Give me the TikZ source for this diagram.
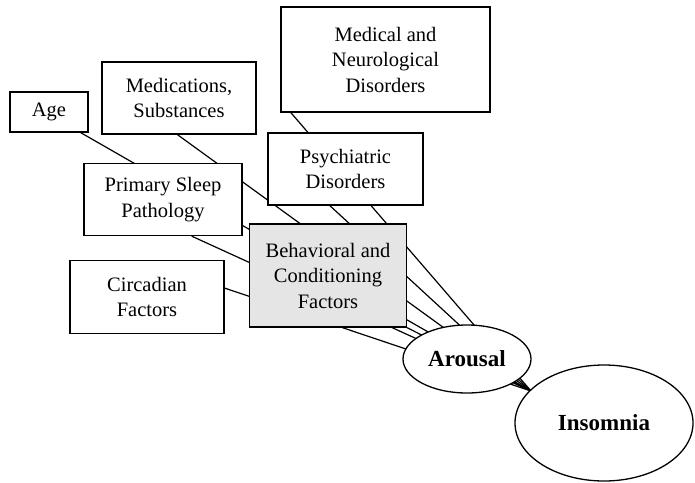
\documentclass[tikz,border=0pt]{standalone}
\usepackage{fontspec}
\setmainfont{Liberation Serif}
\usetikzlibrary{calc,backgrounds,shapes.geometric}
\begin{document}
\begin{tikzpicture}[x=1pt,y=-1pt,
  box/.style={draw,line width=1.3pt,fill=white,align=center,inner sep=0pt,
    font=\fontsize{20.5}{25.5}\selectfont},
  oval/.style={draw,ellipse,line width=1.3pt,fill=white,inner sep=0pt,
    font=\fontsize{23}{27}\selectfont\bfseries},
  conn/.style={line width=1.2pt}]
\useasboundingbox (0,0) rectangle (695,482);
\node[box,minimum width=78pt,minimum height=40pt] (age) at (49,112) {Age};
\node[box,minimum width=154pt,minimum height=72pt] (meds) at (179,98) {Medications,\\Substances};
\node[box,minimum width=209pt,minimum height=105pt] (med) at (385.5,59.5) {Medical and\\Neurological\\Disorders};
\node[box,minimum width=155pt,minimum height=72pt] (psy) at (345.5,169) {Psychiatric\\Disorders};
\node[box,minimum width=158pt,minimum height=72pt] (psp) at (163,199.5) {Primary Sleep\\Pathology};
\node[box,minimum width=157pt,minimum height=103pt,fill=black!10] (beh) at (328,275.5) {Behavioral and\\Conditioning\\Factors};
\node[box,minimum width=154pt,minimum height=73pt] (circ) at (147,297) {Circadian\\Factors};
\node[oval,minimum width=128pt,minimum height=68pt] (arousal) at (467,359) {Arousal};
\node[oval,minimum width=178pt,minimum height=116pt] (insomnia) at (604,423) {Insomnia};
\coordinate (conv) at (531,391);
\begin{scope}[on background layer]
\draw[conn] ($(age.south west)!0.9!(age.south east)$) -- (conv);
\draw[conn] ($(meds.south west)!0.49!(meds.south east)$) -- (conv);
\draw[conn] ($(med.south west)!0.05!(med.south east)$) -- (conv);
\draw[conn] ($(psy.south west)!0.4!(psy.south east)$) -- (conv);
\draw[conn] ($(psp.south west)!0.68!(psp.south east)$) -- (conv);
\draw[conn] ($(circ.north east)!0.38!(circ.south east)$) -- (conv);
\draw[conn] (beh.south east) -- (conv);
\draw[conn] (arousal) -- (conv);
\end{scope}
\end{tikzpicture}
\end{document}
